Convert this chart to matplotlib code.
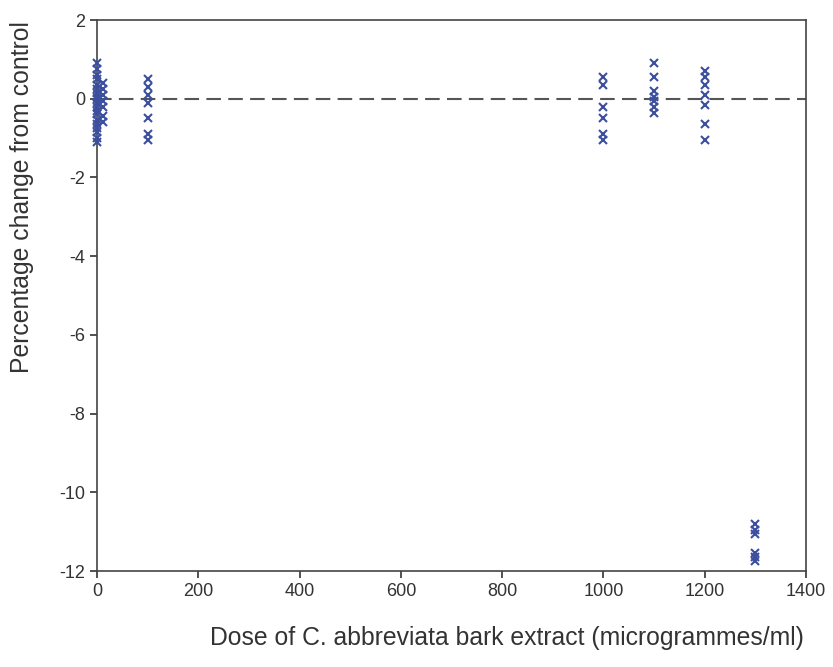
import numpy as np
import matplotlib.pyplot as plt

plt.rcParams['font.family'] = ['Liberation Sans', 'DejaVu Sans']
plt.rcParams['axes.unicode_minus'] = False

# dose (microgrammes/ml) and percentage change readings
dose_0 = [0.9, 0.75, 0.6, 0.5, 0.35, 0.25, 0.15, 0.05, 0.0, -0.1, -0.2,
          -0.3, -0.4, -0.55, -0.65, -0.75, -0.85, -1.0, -1.1]
dose_12 = [0.4, 0.25, 0.1, -0.05, -0.2, -0.45, -0.6]
dose_100 = [0.5, 0.3, 0.1, -0.1, -0.5, -0.9, -1.05]
dose_1000 = [0.55, 0.35, -0.2, -0.5, -0.9, -1.05]
dose_1100 = [0.9, 0.55, 0.2, 0.05, -0.05, -0.2, -0.35]
dose_1200 = [0.7, 0.55, 0.35, 0.1, -0.15, -0.65, -1.05]
dose_1300 = [-10.8, -10.95, -11.05, -11.55, -11.65, -11.75]

groups = {0: dose_0, 12: dose_12, 100: dose_100, 1000: dose_1000,
          1100: dose_1100, 1200: dose_1200, 1300: dose_1300}

fig = plt.figure(figsize=(8.33, 6.67), dpi=100)
ax = fig.add_axes([0.1164, 0.1439, 0.8512, 0.8261])

ax.plot([0, 1400], [0, 0], linestyle=(0, (7, 3.5)), color='#555555', linewidth=1.5, zorder=1)

for d, vals in groups.items():
    ax.plot([d] * len(vals), vals, linestyle='none', marker='x', markersize=6,
            markeredgewidth=1.5, color='#3b4f9e', clip_on=False, zorder=3)

ax.set_xlim(0, 1400)
ax.set_ylim(-12, 2)
ax.set_xticks(np.arange(0, 1401, 200))
ax.set_yticks(np.arange(-12, 3, 2))
ax.tick_params(labelsize=13, colors='#333333', length=5, width=1.2)
for s in ax.spines.values():
    s.set_color('#444444')
    s.set_linewidth(1.2)

fig.text(0.609, 0.043, 'Dose of C. abbreviata bark extract (microgrammes/ml)',
         ha='center', va='center', fontsize=17.8, color='#333333')
fig.text(0.026, 0.704, 'Percentage change from control', rotation=90,
         ha='center', va='center', fontsize=17.8, color='#333333')

fig.savefig('out.png', dpi=100)
